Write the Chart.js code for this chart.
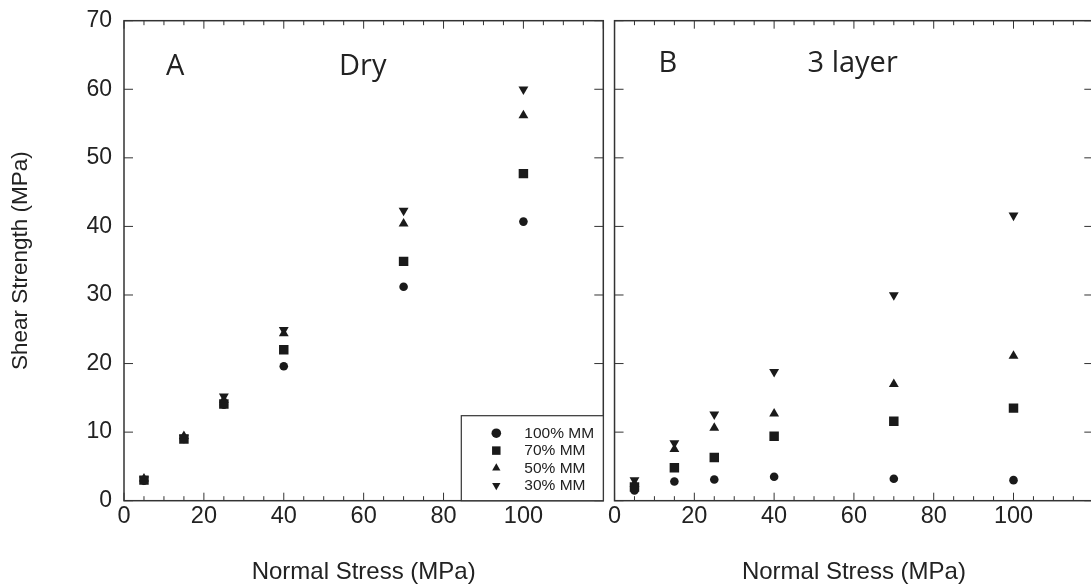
<!DOCTYPE html>
<html>
<head>
<meta charset="utf-8">
<script src="https://cdn.jsdelivr.net/npm/chart.js@4"></script>
<style>
  html, body { margin: 0; padding: 0; background: #fff; overflow: hidden; }
  #wrap { position: relative; width: 1091px; height: 588px; overflow: hidden; }
  canvas { position: absolute; top: 0; }
  #left { left: 0; }
  #right { left: 606px; }
</style>
</head>
<body>
<div id="wrap">
  <canvas id="left" width="610" height="588"></canvas>
  <canvas id="right" width="494" height="588"></canvas>
</div>
<script>
const stress = [5, 15, 25, 40, 70, 100];
const seriesLabels = ['100% MM', '70% MM', '50% MM', '30% MM'];
const xTickLabels = [0, 20, 40, 60, 80, 100];
const yTickLabels = [0, 10, 20, 30, 40, 50, 60, 70];

// panel A, dry
const dryMM100 = [2.9, 9.0, 14.0, 19.6, 31.2, 40.7];
const dryMM70 = [3.0, 9.0, 14.1, 22.0, 34.9, 47.7];
const dryMM50 = [3.2, 9.4, 14.7, 24.4, 40.4, 56.2];
const dryMM30 = [3.1, 9.2, 15.2, 24.9, 42.3, 60.0];

// panel B, 3 layer
const layerMM100 = [1.5, 2.8, 3.1, 3.5, 3.2, 3.0];
const layerMM70 = [2.0, 4.8, 6.3, 9.4, 11.6, 13.5];
const layerMM50 = [2.4, 7.5, 10.6, 12.7, 17.0, 21.1];
const layerMM30 = [3.0, 8.4, 12.6, 18.8, 30.0, 41.6];

const ink = '#1a1a1a';
const axisFont = "'Liberation Sans', Arial, Helvetica, sans-serif";
const markers = [
  { pointStyle: 'circle', radius: 4.3, rotation: 0, order: 1 },
  { pointStyle: 'rect', radius: 6.7, rotation: 0, order: 0 },
  { pointStyle: 'triangle', radius: 5.7, rotation: 0, order: 2 },
  { pointStyle: 'triangle', radius: 5.7, rotation: 180, order: 3 }
];

function makeSets(values) {
  return values.map((vals, i) => ({
    label: seriesLabels[i],
    data: stress.map((x, j) => ({ x: x, y: vals[j] })),
    pointStyle: markers[i].pointStyle,
    pointRadius: markers[i].radius,
    pointRotation: markers[i].rotation,
    pointBackgroundColor: ink,
    pointBorderWidth: 0,
    showLine: false,
    order: markers[i].order
  }));
}

// frame, inward ticks, panel labels and the inset legend
const framePlugin = {
  id: 'frame',
  beforeDatasetsDraw(chart) {
    const { ctx, chartArea: a, scales: { x, y } } = chart;
    ctx.save();
    ctx.strokeStyle = '#333';
    ctx.lineWidth = 1;
    x.ticks.forEach(t => {
      const px = x.getPixelForValue(t.value);
      const len = t.value % 20 === 0 ? 8 : 4.5;
      ctx.beginPath();
      ctx.moveTo(px, a.bottom); ctx.lineTo(px, a.bottom - len);
      ctx.moveTo(px, a.top); ctx.lineTo(px, a.top + len);
      ctx.stroke();
    });
    y.ticks.forEach(t => {
      const py = y.getPixelForValue(t.value);
      ctx.beginPath();
      ctx.moveTo(a.left, py); ctx.lineTo(a.left + 9, py);
      ctx.moveTo(a.right, py); ctx.lineTo(a.right - 9, py);
      ctx.stroke();
    });
    ctx.lineWidth = 1.5;
    ctx.strokeRect(a.left, a.top, a.right - a.left, a.bottom - a.top);
    ctx.restore();
  },
  afterDatasetsDraw(chart, args, opts) {
    const { ctx, chartArea: a } = chart;
    ctx.save();
    ctx.fillStyle = '#222';
    ctx.font = "29px 'Open Sans', 'Noto Sans', sans-serif";
    ctx.textBaseline = 'alphabetic';
    ctx.textAlign = 'left';
    ctx.fillText(opts.letter, a.left + opts.letterX, a.top + opts.baseY);
    ctx.fillText(opts.title, a.left + opts.titleX, a.top + opts.baseY);
    if (opts.legend) {
      const w = 142, h = 85;
      const lx = a.right - w, ly = a.bottom - h;
      ctx.fillStyle = '#fff';
      ctx.fillRect(lx, ly, w, h);
      ctx.strokeStyle = '#333';
      ctx.lineWidth = 1.2;
      ctx.strokeRect(lx, ly, w, h);
      ctx.font = '15.5px ' + axisFont;
      ctx.textBaseline = 'middle';
      chart.data.datasets.forEach((ds, i) => {
        const ry = ly + 17.5 + i * 17.4;
        ctx.fillStyle = ink;
        Chart.helpers.drawPoint(ctx, {
          pointStyle: ds.pointStyle,
          radius: i === 1 ? 6 : 4.8,
          rotation: ds.pointRotation,
          borderWidth: 0
        }, lx + 35, ry);
        ctx.fillStyle = '#222';
        ctx.fillText(ds.label, lx + 63, ry + 0.5);
      });
    }
    ctx.restore();
  }
};

function makePanel(id, values, cfg) {
  return new Chart(document.getElementById(id), {
    type: 'scatter',
    data: { datasets: makeSets(values) },
    options: {
      responsive: false,
      animation: false,
      layout: { padding: { top: 20.7, right: cfg.padRight, left: 0, bottom: 0 } },
      plugins: {
        legend: { display: false },
        tooltip: { enabled: false },
        frame: cfg.frame
      },
      scales: {
        x: {
          type: 'linear',
          min: 0,
          max: 120,
          grid: { display: false, drawTicks: false },
          border: { display: false },
          ticks: {
            stepSize: 5,
            autoSkip: false,
            maxRotation: 0,
            padding: 2,
            color: '#222',
            font: { family: axisFont, size: 23.5 },
            callback: v => xTickLabels.includes(v) ? String(v) : ''
          },
          title: {
            display: true,
            text: 'Normal Stress (MPa)',
            color: '#222',
            font: { family: axisFont, size: 24 },
            padding: { top: 0, bottom: 1.5 }
          },
          afterFit: s => { s.height = 87.3; }
        },
        y: {
          type: 'linear',
          min: 0,
          max: 70,
          // tick marks are drawn by the frame plugin; tickLength only spaces the labels
          grid: { display: false, drawTicks: true, tickLength: 12 },
          border: { display: false },
          ticks: {
            display: cfg.showY,
            stepSize: 10,
            padding: 0,
            color: '#222',
            font: { family: axisFont, size: 23 },
            callback: v => yTickLabels.includes(v) ? String(v) : ''
          },
          title: {
            display: cfg.showY,
            text: 'Shear Strength (MPa)',
            color: '#222',
            font: { family: axisFont, size: 22.5 },
            padding: { top: 7, bottom: 0 }
          },
          afterFit: s => { s.width = cfg.yWidth; }
        }
      }
    },
    plugins: [framePlugin]
  });
}

makePanel('left', [dryMM100, dryMM70, dryMM50, dryMM30], {
  showY: true, yWidth: 124, padRight: 2.3,
  frame: { letter: 'A', letterX: 42, title: 'Dry', titleX: 215, baseY: 54, legend: true }
});
makePanel('right', [layerMM100, layerMM70, layerMM50, layerMM30], {
  showY: false, yWidth: 8, padRight: 4,
  frame: { letter: 'B', letterX: 44, title: '3 layer', titleX: 193, baseY: 51, legend: false }
});
</script>
</body>
</html>
